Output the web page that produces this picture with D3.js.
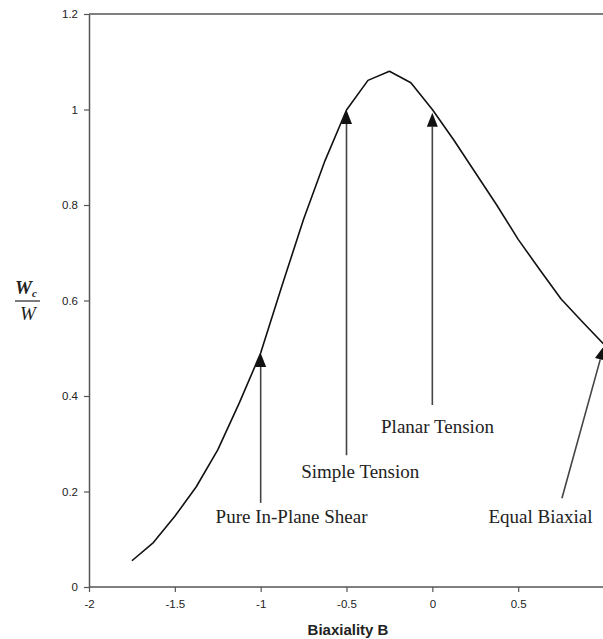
<!DOCTYPE html>
<html>
<head>
<meta charset="utf-8">
<script src="https://cdn.jsdelivr.net/npm/d3@7"></script>
<style>
  html, body { margin: 0; padding: 0; background: #fff; }
  svg { display: block; }
</style>
</head>
<body>
<svg id="chart" width="603" height="639"></svg>
<script>
// ---- data ----
const biaxiality = [-1.75, -1.625, -1.5, -1.375, -1.25, -1.125, -1.0, -0.875, -0.75, -0.625, -0.5,
                    -0.375, -0.25, -0.125, 0.0, 0.125, 0.25, 0.375, 0.5, 0.625, 0.75, 0.875, 1.0];
const ratio = [0.055, 0.093, 0.148, 0.21, 0.287, 0.385, 0.49, 0.632, 0.77, 0.893, 0.999,
               1.061, 1.08, 1.056, 1.0, 0.936, 0.868, 0.8, 0.728, 0.665, 0.603, 0.555, 0.508];
const xTicks = [-2, -1.5, -1, -0.5, 0, 0.5];
const yTicks = [0, 0.2, 0.4, 0.6, 0.8, 1, 1.2];
const annLabels = ["Pure In-Plane Shear", "Simple Tension", "Planar Tension", "Equal Biaxial"];
const annTipB   = [-1.0, -0.5, 0.0, 1.0];
const annTipV   = [0.49, 0.999, 0.993, 0.505];
const annTailB  = [-1.0, -0.5, 0.0, 0.755];
const annTailV  = [0.176, 0.276, 0.381, 0.186];
const annTextB  = [-0.82, -0.42, 0.03, 0.63];
const annTextV  = [0.147, 0.241, 0.337, 0.147];

// ---- layout ----
const svg = d3.select("#chart");
const x = d3.scaleLinear().domain([-2, 1]).range([89, 604]);
const y = d3.scaleLinear().domain([0, 1.2]).range([587, 14]);
const axisColor = "#555";

// top border
svg.append("line")
  .attr("x1", x(-2)).attr("x2", 603)
  .attr("y1", y(1.2)).attr("y2", y(1.2))
  .attr("stroke", axisColor).attr("stroke-width", 1.5);

// x axis
const xAxis = svg.append("g")
  .attr("transform", `translate(0,${y(0)})`)
  .call(d3.axisBottom(x).tickValues(xTicks).tickSize(5).tickSizeOuter(0).tickPadding(8)
        .tickFormat(d => String(d)));
xAxis.select(".domain").attr("stroke", axisColor).attr("stroke-width", 1.5)
  .attr("d", `M${x(-2)},0H603`);
xAxis.selectAll(".tick line").attr("stroke", axisColor).attr("stroke-width", 1.2);
xAxis.selectAll(".tick text").attr("fill", "#222")
  .style("font-family", "'Liberation Sans', Arial, sans-serif").style("font-size", "11.5px");

// y axis
const yAxis = svg.append("g")
  .attr("transform", `translate(${x(-2)},0)`)
  .call(d3.axisLeft(y).tickValues(yTicks).tickSize(5).tickSizeOuter(0).tickPadding(6)
        .tickFormat(d => String(d)));
yAxis.select(".domain").attr("stroke", axisColor).attr("stroke-width", 1.5);
yAxis.selectAll(".tick line").attr("stroke", axisColor).attr("stroke-width", 1.2);
yAxis.selectAll(".tick text").attr("fill", "#222")
  .style("font-family", "'Liberation Sans', Arial, sans-serif").style("font-size", "11.5px");

// x title
svg.append("text")
  .attr("x", (x(-2) + 603) / 2 + 2).attr("y", 635)
  .attr("text-anchor", "middle")
  .style("font-family", "'Liberation Sans', Arial, sans-serif")
  .style("font-size", "15px").style("font-weight", "bold").attr("fill", "#222")
  .text("Biaxiality B");

// y title as fraction Wc / W
const yl = svg.append("g").attr("transform", "translate(28,301)")
  .style("font-family", "'Liberation Serif', 'Times New Roman', serif")
  .style("font-style", "italic").attr("fill", "#222");
const num = yl.append("text").attr("x", -2).attr("y", -7).attr("text-anchor", "middle")
  .style("font-size", "19px").style("font-weight", "bold");
num.append("tspan").text("W");
num.append("tspan").attr("dy", 3).style("font-size", "11px").text("c");
yl.append("line").attr("x1", -13).attr("x2", 12).attr("y1", 0).attr("y2", 0)
  .attr("stroke", "#222").attr("stroke-width", 1.2);
yl.append("text").attr("x", 0).attr("y", 19).attr("text-anchor", "middle")
  .style("font-size", "19px").text("W");

// curve
const pts = biaxiality.map((b, i) => [b, ratio[i]]);
svg.append("path")
  .datum(pts)
  .attr("fill", "none").attr("stroke", "#111").attr("stroke-width", 1.6)
  .attr("stroke-linejoin", "round")
  .attr("d", d3.line().x(d => x(d[0])).y(d => y(d[1])).curve(d3.curveLinear));

// annotations
annLabels.forEach((lab, i) => {
  const tx = x(annTipB[i]), ty = y(annTipV[i]);
  const sx = x(annTailB[i]), sy = y(annTailV[i]);
  const ang = Math.atan2(ty - sy, tx - sx);
  const headLen = 14, headW = 5.5;
  const bx = tx - headLen * Math.cos(ang), by = ty - headLen * Math.sin(ang);
  svg.append("line")
    .attr("x1", sx).attr("y1", sy).attr("x2", bx).attr("y2", by)
    .attr("stroke", "#444").attr("stroke-width", 1.6);
  const px = -Math.sin(ang), py = Math.cos(ang);
  svg.append("path")
    .attr("d", `M${tx},${ty}L${bx + px * headW},${by + py * headW}L${bx - px * headW},${by - py * headW}Z`)
    .attr("fill", "#111");
  svg.append("text")
    .attr("x", x(annTextB[i])).attr("y", y(annTextV[i]))
    .attr("text-anchor", "middle").attr("dominant-baseline", "central")
    .style("font-family", "'Liberation Serif', 'Times New Roman', serif")
    .style("font-size", "19px").attr("fill", "#222")
    .text(lab);
});
</script>
</body>
</html>
